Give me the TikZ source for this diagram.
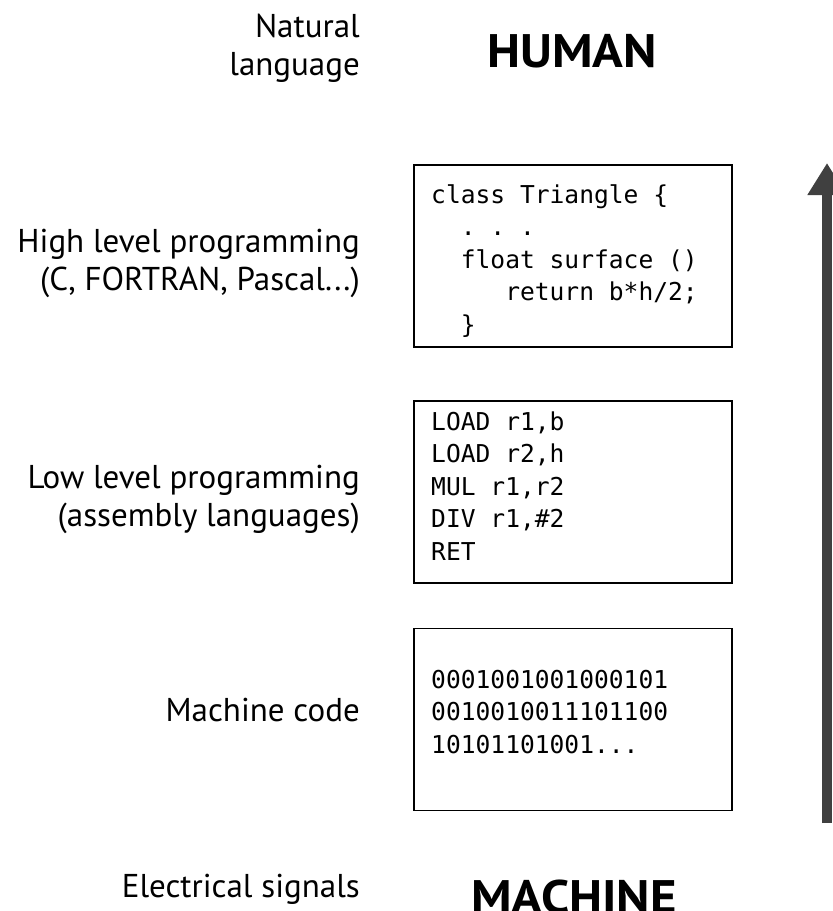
\documentclass[tikz,border=0pt]{standalone}
\usepackage{fontspec}
\setmainfont{PT Sans}
\newfontfamily\bigfont{PT Sans}[FakeStretch=1.08]
\newfontfamily\codefont{DejaVu Sans Mono}
\usetikzlibrary{arrows.meta}
\definecolor{arrowgray}{HTML}{404040}
\begin{document}
\begin{tikzpicture}[x=1pt,y=-1pt,
  codebox/.style={draw=black,line width=1.8pt,minimum width=318pt,minimum height=182pt,inner sep=0pt},
  codetext/.style={anchor=base west,inner sep=0pt,font=\codefont\fontsize{24.6}{32.5}\selectfont},
  label/.style={anchor=base east,inner sep=0pt,font=\fontsize{33}{38.5}\selectfont},
  bigword/.style={anchor=base,inner sep=0pt,font=\bigfont\bfseries\fontsize{47}{50}\selectfont}]
\useasboundingbox (0,0) rectangle (833,911);
% left labels
\node[label] (nat) at (360,37) {\begin{tabular}[t]{@{}r@{}}Natural\\language\end{tabular}};
\node[label] (hl) at (360,252) {\begin{tabular}[t]{@{}r@{}}High level programming\\(C, FORTRAN, Pascal...)\end{tabular}};
\node[label] (ll) at (360,488) {\begin{tabular}[t]{@{}r@{}}Low level programming\\(assembly languages)\end{tabular}};
\node[label] (mc) at (360,721) {Machine code};
\node[label] (es) at (360,897) {Electrical signals};
% big words
\node[bigword] (human) at (572,67) {HUMAN};
\node[bigword] (machine) at (574,913) {MACHINE};
% boxes
\node[codebox] (b1) at (573,256) {};
\node[codebox] (b2) at (573,492) {};
\node[codebox] (b3) at (573,719.5) {};
\renewcommand{\arraystretch}{1}
\node[codetext] (t1) at (431,203) {\begin{tabular}[t]{@{}l@{}}class Triangle \{\\
\phantom{xx}.\ .\ .\\
\phantom{xx}float surface ()\\
\phantom{xxxxx}return b*h/2;\\
\phantom{xx}\}\end{tabular}};
\node[codetext] (t2) at (431,430) {\begin{tabular}[t]{@{}l@{}}LOAD r1,b\\LOAD r2,h\\MUL r1,r2\\DIV r1,\#2\\RET\end{tabular}};
\node[codetext] (t3) at (431,688) {\begin{tabular}[t]{@{}l@{}}0001001001000101\\0010010011101100\\10101101001...\end{tabular}};
% arrow
\coordinate (abot) at (827,823);
\coordinate (atop) at (827,163);
\draw[arrowgray,line width=10pt,-{Triangle[width=37pt,length=32pt]}] (abot) -- (atop);
\end{tikzpicture}
\end{document}
